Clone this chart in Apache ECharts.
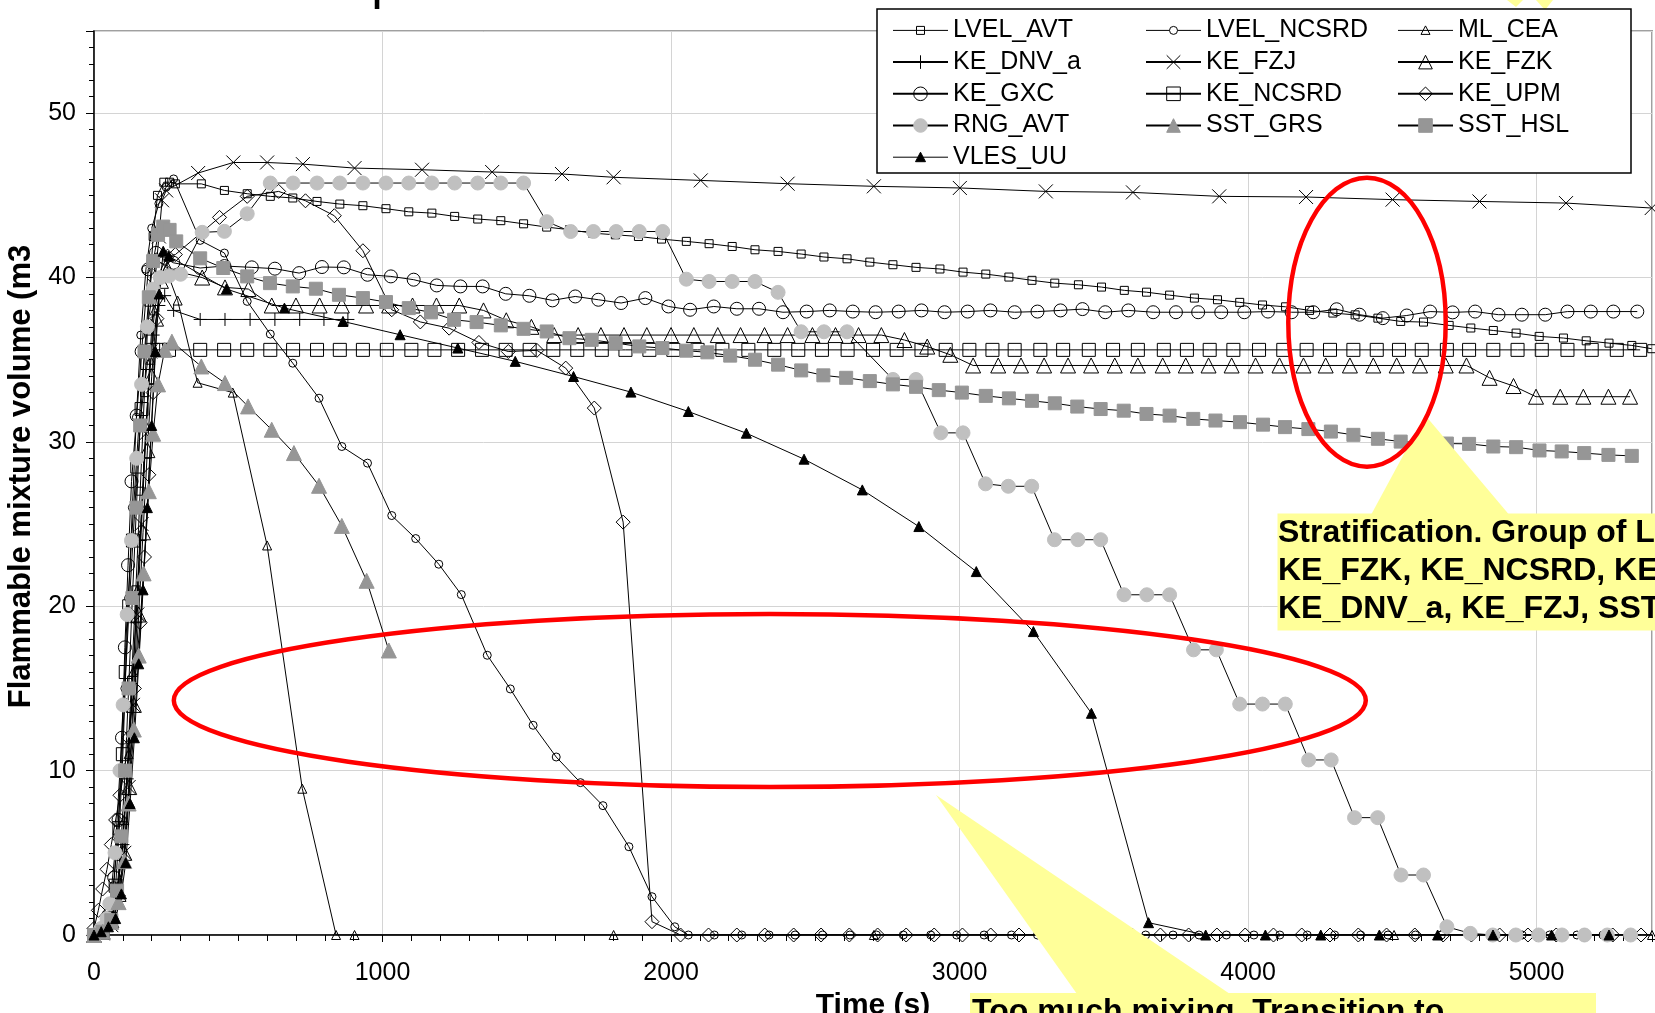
<!DOCTYPE html>
<html><head><meta charset="utf-8">
<script src="https://cdn.jsdelivr.net/npm/echarts@6/dist/echarts.min.js"></script>
<style>html,body{margin:0;padding:0;background:#fff;overflow:hidden}#chart{width:1655px;height:1013px}</style>
</head><body><div id="chart"></div>
<script>
const FONT = "'Liberation Sans', Arial, sans-serif";
const xTickLabels = ['0','1000','2000','3000','4000','5000'];
const yTickLabels = ['0','10','20','30','40','50'];
const legendCol1 = ['LVEL_AVT','KE_DNV_a','KE_GXC','RNG_AVT','VLES_UU'];
const legendCol2 = ['LVEL_NCSRD','KE_FZJ','KE_NCSRD','SST_GRS'];
const legendCol3 = ['ML_CEA','KE_FZK','KE_UPM','SST_HSL'];

const LVEL_AVT = [[0,0],[30,0.1],[60,0.8],[80,2.4],[100,6],[115,10],[130,15.5],[145,21],[160,27],[175,33],[190,38.5],[205,42.5],[220,45],[242,45.8],[262,45.8],[282,45.7],[372,45.7],[452,45.3],[531,45.1],[611,44.94],[689,44.84],[773,44.63],[852,44.47],[932,44.37],[1012,44.19],[1091,44.0],[1171,43.92],[1250,43.72],[1330,43.56],[1410,43.46],[1489,43.27],[1569,43.07],[1648,42.91],[1728,42.7],[1807,42.6],[1887,42.5],[1967,42.34],[2053,42.2],[2132,42.06],[2212,41.89],[2291,41.69],[2371,41.59],[2451,41.43],[2530,41.25],[2610,41.14],[2689,40.94],[2769,40.78],[2849,40.62],[2932,40.52],[3012,40.33],[3091,40.21],[3171,40.03],[3251,39.83],[3330,39.66],[3412,39.56],[3492,39.42],[3571,39.22],[3648,39.11],[3728,38.93],[3814,38.75],[3894,38.65],[3971,38.49],[4050,38.33],[4130,38.22],[4213,38.0],[4294,37.84],[4371,37.73],[4450,37.53],[4529,37.33],[4608,37.29],[4697,37.09],[4772,36.93],[4850,36.78],[4929,36.62],[5009,36.42],[5093,36.32],[5172,36.15],[5251,36.01],[5330,35.87],[5399,35.67]];
const LVEL_NCSRD = [[0,0],[25,0.3],[50,1],[68,3],[82,6],[95,10],[107,15],[120,20.5],[133,26],[147,31.5],[162,36.5],[180,40.5],[200,43],[225,44.5],[250,45.5],[276,46.0],[368,42.26],[452,41.49],[531,38.55],[611,36.56],[689,34.79],[780,32.66],[859,29.72],[948,28.71],[1032,25.52],[1115,24.12],[1195,22.56],[1273,20.71],[1363,17.02],[1443,14.97],[1522,12.76],[1602,10.83],[1686,9.27],[1764,7.87],[1854,5.37],[1934,2.33],[2013,0.5],[2060,0],[2150,0],[2245,0],[2340,0],[2430,0],[2525,0],[2620,0],[2712,0],[2805,0],[2900,0],[2990,0],[3085,0],[3180,0],[3270,0],[3365,0],[3460,0],[3550,0],[3645,0],[3740,0],[3830,0],[3925,0],[4020,0],[4110,0],[4205,0],[4300,0],[4390,0],[4485,0],[4580,0],[4670,0],[4765,0],[4860,0],[4950,0],[5045,0],[5140,0],[5230,0],[5325,0]];
const ML_CEA = [[0,0],[30,0.2],[60,1],[85,3],[105,7],[120,11],[135,16],[150,21],[165,26],[180,31],[195,35],[210,38],[230,40],[250,40.5],[290,38.6],[359,33.6],[481,33.0],[600,23.7],[722,8.9],[839,0],[903,0],[1801,0],[2703,0],[3605,0],[4506,0],[5400,0]];
const KE_DNV_a = [[0,0],[30,0.2],[60,1],[80,2.5],[100,5.5],[115,9.5],[130,14],[145,19],[160,24],[175,29],[190,33.5],[205,36.5],[225,38.3],[245,38.9],[276,38.0],[368,37.45],[454,37.45],[541,37.45],[627,37.45],[713,37.45],[797,37.45],[880,37.45]];
const KE_FZJ = [[0,0],[30,0.1],[60,0.6],[85,2],[105,5],[120,9],[135,14],[150,19.5],[165,25],[180,30.5],[195,35.5],[210,39.5],[225,42.5],[236,44.7],[250,45.3],[361,46.36],[483,47.0],[600,47.0],[724,46.9],[903,46.66],[1137,46.56],[1380,46.42],[1622,46.3],[1801,46.1],[2103,45.91],[2404,45.71],[2703,45.55],[3001,45.45],[3299,45.24],[3601,45.18],[3900,44.94],[4201,44.9],[4501,44.74],[4802,44.63],[5102,44.53],[5399,44.23]];
const KE_FZK = [[0,0],[30,0.2],[60,0.9],[85,2.5],[105,5],[122,9],[138,14],[155,19.5],[170,24.5],[185,29.5],[200,34],[215,37.5],[232,39.8],[255,40.5],[375,40.0],[454,39.4],[535,39.3],[616,38.3],[700,38.3],[782,38.3],[859,38.3],[943,38.3],[1023,38.3],[1104,38.3],[1187,38.3],[1266,38.3],[1350,38.0],[1429,37.4],[1516,37.0],[1595,36.5],[1678,36.5],[1757,36.5],[1837,36.5],[1916,36.5],[2000,36.5],[2079,36.5],[2162,36.5],[2241,36.5],[2324,36.5],[2404,36.5],[2490,36.5],[2570,36.5],[2650,36.5],[2729,36.5],[2809,36.2],[2888,35.8],[2968,35.3],[3047,34.65],[3134,34.65],[3213,34.65],[3293,34.65],[3376,34.65],[3456,34.65],[3538,34.65],[3618,34.65],[3704,34.65],[3784,34.65],[3863,34.65],[3943,34.65],[4026,34.65],[4109,34.65],[4192,34.65],[4269,34.65],[4353,34.65],[4434,34.65],[4515,34.65],[4596,34.65],[4685,34.65],[4757,34.65],[4837,33.9],[4920,33.4],[4998,32.75],[5082,32.75],[5162,32.75],[5249,32.75],[5324,32.75]];
const KE_GXC = [[0,0],[25,0.3],[50,1.2],[70,3.5],[85,7],[97,12],[107,17.5],[118,22.5],[130,27.6],[148,31.6],[165,35.5],[188,40.5],[215,41.5],[245,41.2],[275,40.9],[368,40.58],[452,40.7],[547,40.62],[627,40.54],[711,40.27],[790,40.64],[866,40.62],[948,40.17],[1029,40.07],[1108,39.87],[1188,39.52],[1270,39.46],[1347,39.46],[1427,39.01],[1509,38.89],[1589,38.61],[1668,38.85],[1748,38.65],[1827,38.45],[1911,38.75],[1991,38.24],[2066,38.04],[2148,38.24],[2228,38.1],[2305,38.1],[2388,37.89],[2470,37.93],[2550,38.0],[2630,37.93],[2709,37.89],[2789,37.93],[2868,38.0],[2948,37.89],[3028,37.93],[3107,38.0],[3191,37.89],[3270,37.93],[3350,38.0],[3426,38.08],[3505,37.89],[3585,38.0],[3671,37.89],[3750,37.89],[3827,37.89],[3907,37.89],[3987,37.89],[4069,37.93],[4151,37.89],[4226,37.89],[4307,38.07],[4386,37.74],[4467,37.53],[4550,37.69],[4631,37.93],[4709,37.88],[4787,37.93],[4868,37.74],[4949,37.74],[5030,37.74],[5107,37.93],[5188,37.93],[5266,37.93],[5349,37.93]];
const KE_NCSRD = [[0,0],[30,0.2],[55,1],[75,3],[88,6.5],[100,11],[110,16],[122,20],[135,24],[150,28.5],[165,32],[185,34.8],[205,35.6],[230,35.6],[260,35.6],[368,35.6],[451,35.6],[531,35.6],[611,35.6],[690,35.6],[773,35.6],[852,35.6],[932,35.6],[1015,35.6],[1100,35.6],[1180,35.6],[1262,35.6],[1345,35.6],[1427,35.6],[1510,35.6],[1592,35.6],[1675,35.6],[1760,35.6],[1842,35.6],[1925,35.6],[2008,35.6],[2092,35.6],[2178,35.6],[2268,35.6],[2358,35.6],[2441,35.6],[2523,35.6],[2612,35.6],[2700,35.6],[2782,35.6],[2868,35.6],[2952,35.6],[3034,35.6],[3114,35.6],[3191,35.6],[3280,35.6],[3359,35.6],[3448,35.6],[3532,35.6],[3618,35.6],[3708,35.6],[3788,35.6],[3867,35.6],[3949,35.6],[4038,35.6],[4122,35.6],[4203,35.6],[4284,35.6],[4365,35.6],[4446,35.6],[4523,35.6],[4602,35.6],[4689,35.6],[4766,35.6],[4850,35.6],[4934,35.6],[5018,35.6],[5107,35.6],[5191,35.6],[5278,35.6],[5359,35.6]];
const KE_UPM = [[0,0.4],[15,1.5],[30,2.8],[45,4],[60,5.5],[75,7],[90,8.5],[105,10],[120,12],[140,15],[160,19],[175,23],[190,28],[205,33],[218,37.5],[232,40.5],[255,41.3],[282,41.4],[435,43.66],[531,44.94],[640,45.24],[733,44.67],[833,43.76],[932,41.63],[1032,38.04],[1131,37.3],[1231,36.92],[1334,36.05],[1436,35.5],[1535,35.57],[1635,34.49],[1734,32.06],[1834,25.12],[1934,0.81],[2033,0],[2130,0],[2228,0],[2325,0],[2425,0],[2520,0],[2618,0],[2716,0],[2815,0],[2912,0],[3010,0],[3108,0],[3206,0],[3304,0],[3402,0],[3500,0],[3598,0],[3696,0],[3794,0],[3892,0],[3990,0],[4088,0],[4186,0],[4284,0],[4382,0],[4480,0],[4578,0],[4676,0],[4774,0],[4872,0],[4970,0],[5068,0],[5166,0],[5264,0],[5362,0]];
const RNG_AVT = [[0,0],[25,0.4],[45,1],[55,1.9],[73,5],[90,10],[101,14],[115,19.5],[130,24],[148,29],[165,33.5],[185,37],[205,39.3],[230,40],[260,40.1],[300,40.2],[375,42.75],[452,42.81],[531,43.88],[611,45.75],[690,45.75],[773,45.75],[852,45.75],[932,45.75],[1012,45.75],[1091,45.75],[1171,45.75],[1250,45.75],[1330,45.75],[1410,45.75],[1489,45.75],[1569,43.4],[1652,42.8],[1731,42.8],[1810,42.8],[1890,42.8],[1971,42.8],[2053,39.9],[2132,39.76],[2212,39.76],[2291,39.76],[2371,39.1],[2451,36.7],[2530,36.7],[2610,36.7],[2769,33.8],[2849,33.8],[2935,30.55],[3012,30.55],[3090,27.45],[3169,27.3],[3250,27.3],[3329,24.05],[3410,24.05],[3489,24.05],[3570,20.7],[3649,20.7],[3728,20.7],[3811,17.35],[3890,17.35],[3971,14.05],[4050,14.05],[4129,14.05],[4210,10.65],[4288,10.65],[4369,7.14],[4449,7.14],[4530,3.65],[4608,3.65],[4689,0.5],[4770,0.1],[4848,0],[4928,0],[5007,0],[5088,0],[5166,0],[5245,0],[5326,0]];
const SST_GRS = [[0,0],[30,0.2],[60,0.8],[85,2],[105,4.5],[120,8],[138,12.5],[155,17],[172,22],[190,27],[205,30.5],[222,33.5],[245,35.6],[270,36.1],[372,34.59],[454,33.58],[534,32.16],[616,30.74],[693,29.32],[780,27.33],[859,24.89],[945,21.55],[1022,17.31]];
const SST_HSL = [[0,0],[30,0.2],[60,0.9],[80,2.7],[95,6],[108,10],[120,15],[133,20.5],[147,26],[160,31],[175,35.5],[190,38.8],[205,41],[222,42.6],[240,43.1],[262,42.9],[285,42.2],[368,41.17],[448,40.58],[531,40.07],[610,39.66],[689,39.46],[769,39.32],[849,38.95],[932,38.75],[1012,38.51],[1091,38.14],[1168,37.88],[1248,37.43],[1326,37.29],[1410,37.09],[1489,36.88],[1569,36.72],[1648,36.31],[1725,36.21],[1808,36.01],[1890,35.81],[1970,35.71],[2053,35.55],[2126,35.45],[2205,35.25],[2291,35.0],[2371,34.7],[2451,34.35],[2528,34.05],[2607,33.9],[2689,33.7],[2769,33.5],[2849,33.35],[2928,33.15],[3008,33.0],[3091,32.8],[3171,32.65],[3251,32.5],[3330,32.35],[3408,32.15],[3489,32.0],[3569,31.9],[3648,31.7],[3728,31.6],[3810,31.4],[3887,31.3],[3972,31.2],[4052,31.05],[4128,30.9],[4209,30.78],[4287,30.63],[4365,30.43],[4450,30.19],[4529,30.02],[4608,29.95],[4689,29.9],[4766,29.88],[4850,29.72],[4929,29.68],[5010,29.48],[5087,29.42],[5165,29.32],[5249,29.21],[5330,29.15]];
const VLES_UU = [[0,0],[25,0.2],[50,0.5],[75,1],[95,2.5],[110,4.4],[125,8],[140,12],[155,16.5],[170,21],[185,26],[200,31],[213,35.5],[226,39],[240,41.6],[259,41.3],[459,39.3],[660,38.14],[863,37.33],[1061,36.52],[1261,35.71],[1460,34.9],[1662,33.98],[1861,33.03],[2060,31.85],[2261,30.53],[2461,28.95],[2663,27.08],[2859,24.85],[3058,22.11],[3256,18.46],[3457,13.49],[3655,0.75],[3853,0],[4060,0],[4252,0],[4455,0],[4657,0],[4849,0],[5052,0],[5251,0]];

const PLUS = 'path://M5,0L5,10M0,5L10,5';
const CROSS = 'path://M0,0L10,10M10,0L0,10';
const NOFILL = 'rgba(0,0,0,0)';

// legend icons (line + small marker) for the small-marker series
const ICON_SMALL_RECT = 'path://M0,0M55,17M0,8.5L55,8.5M23.5,4.5L31.5,4.5L31.5,12.5L23.5,12.5Z';
const ICON_SMALL_CIRCLE = 'path://M0,0M55,17M0,8.5L23.5,8.5M31.5,8.5L55,8.5M23.5,8.5A4,4,0,1,1,31.5,8.5A4,4,0,1,1,23.5,8.5Z';
const ICON_SMALL_TRI = 'path://M0,0M55,17M0,8.5L55,8.5M27.5,4L32,12.5L23,12.5Z';
const ICON_FILLED_TRI = 'path://M0,0M55,17M0,8.5L55,8.5M27.5,3.5L32.5,13L22.5,13Z';
const legendIcons = { LVEL_AVT: ICON_SMALL_RECT, LVEL_NCSRD: ICON_SMALL_CIRCLE, ML_CEA: ICON_SMALL_TRI, VLES_UU: ICON_FILLED_TRI };

function mk(name, data, symbol, size, fill, border) {
  return {
    name, type: 'line', data, symbol, symbolSize: size, showSymbol: true,
    xAxisIndex: 0, yAxisIndex: 0, animation: false,
    lineStyle: { color: '#000', width: 1 },
    itemStyle: { color: fill, borderColor: border, borderWidth: 1 },
    emphasis: { disabled: true }
  };
}

const series = [
  mk('LVEL_AVT', LVEL_AVT, 'rect', 8, NOFILL, '#000'),
  mk('LVEL_NCSRD', LVEL_NCSRD, 'circle', 8, NOFILL, '#000'),
  mk('ML_CEA', ML_CEA, 'triangle', 9, NOFILL, '#000'),
  mk('KE_DNV_a', KE_DNV_a, PLUS, 13, NOFILL, '#000'),
  mk('KE_FZJ', KE_FZJ, CROSS, 14, NOFILL, '#000'),
  mk('KE_FZK', KE_FZK, 'triangle', 15, NOFILL, '#000'),
  mk('KE_GXC', KE_GXC, 'circle', 13, NOFILL, '#000'),
  mk('KE_NCSRD', KE_NCSRD, 'rect', 13, NOFILL, '#000'),
  mk('KE_UPM', KE_UPM, 'diamond', 14, NOFILL, '#000'),
  mk('RNG_AVT', RNG_AVT, 'circle', 14, '#c0c0c0', '#c0c0c0'),
  mk('SST_GRS', SST_GRS, 'triangle', 15, '#969696', '#969696'),
  mk('SST_HSL', SST_HSL, 'rect', 13, '#969696', '#969696'),
  mk('VLES_UU', VLES_UU, 'triangle', 10, '#000', '#000')
];

function legendData(names) {
  return names.map(n => legendIcons[n] ? { name: n, icon: legendIcons[n] } : { name: n });
}

const legendCommon = {
  orient: 'vertical', padding: 0, itemWidth: 55, itemHeight: 17, itemGap: 5.7,
  selectedMode: false, z: 30,
  textStyle: { fontSize: 25, color: '#000', fontFamily: FONT, lineHeight: 26 },
  itemStyle: { borderWidth: 1 }
};

const chart = echarts.init(document.getElementById('chart'), null, { renderer: 'canvas' });
chart.setOption({
  backgroundColor: '#fff',
  animation: false,
  textStyle: { fontFamily: FONT },
  grid: { left: 94, top: 31, right: 3, bottom: 78, containLabel: false, outerBoundsMode: 'none', show: true, borderColor: '#a0a0a0', borderWidth: 2, backgroundColor: 'transparent' },
  legend: [
    Object.assign({}, legendCommon, { left: 892, top: 17.4, data: legendData(legendCol1) }),
    Object.assign({}, legendCommon, { left: 1145, top: 17.4, data: legendData(legendCol2) }),
    Object.assign({}, legendCommon, { left: 1397, top: 17.4, data: legendData(legendCol3) })
  ],
  xAxis: [
    {
      type: 'value', min: 0, max: 5400, interval: 1000, position: 'bottom',
      name: 'Time (s)', nameLocation: 'middle', nameGap: 47,
      nameTextStyle: { fontSize: 30, fontWeight: 'bold', color: '#000', fontFamily: FONT },
      axisLine: { onZero: false, lineStyle: { color: '#000', width: 1.5 } },
      axisTick: { show: true, length: 7, lineStyle: { color: '#000' } },
      axisLabel: { fontSize: 25, color: '#000', margin: 26, fontFamily: FONT,
        formatter: v => xTickLabels.indexOf(String(v)) >= 0 ? String(v) : '' },
      splitLine: { show: true, lineStyle: { color: '#d4d4d4', width: 1 } }
    },
    {
      type: 'value', min: 0, max: 5400, interval: 100, position: 'bottom',
      axisLine: { show: false, onZero: false },
      axisTick: { show: true, length: 6, lineStyle: { color: '#000' } },
      axisLabel: { show: false }, splitLine: { show: false }
    }
  ],
  yAxis: [
    {
      type: 'value', min: 0, max: 55, interval: 10, position: 'left',
      name: 'Flammable mixture volume (m3', nameLocation: 'middle', nameGap: 51,
      nameTextStyle: { fontSize: 31, fontWeight: 'bold', color: '#000', fontFamily: FONT, padding: [0, 0, 0, 13] },
      axisLine: { show: true, onZero: false, lineStyle: { color: '#000', width: 1.5 } },
      axisTick: { show: true, length: 8, lineStyle: { color: '#000' } },
      axisLabel: { fontSize: 25, color: '#000', margin: 18, fontFamily: FONT,
        formatter: v => yTickLabels.indexOf(String(v)) >= 0 ? String(v) : '' },
      splitLine: { show: true, lineStyle: { color: '#d4d4d4', width: 1 } }
    },
    {
      type: 'value', min: 0, max: 55, interval: 1, position: 'left',
      axisLine: { show: false, onZero: false },
      axisTick: { show: true, length: 5, lineStyle: { color: '#000' } },
      axisLabel: { show: false }, splitLine: { show: false }
    }
  ],
  series: series,
  graphic: [
    { type: 'text', x: 7, y: -16, z: 40, style: { text: 'on assessment parameters', fontSize: 52, fontFamily: FONT, fill: '#000', verticalAlign: 'middle' } },
    { type: 'polygon', z: 20, shape: { points: [[1507,0],[1516,7],[1523,0]] }, style: { fill: '#ffff99' } },
    { type: 'polygon', z: 20, shape: { points: [[1536,0],[1545,10],[1553,0]] }, style: { fill: '#ffff99' } },
    { type: 'rect', z: 25, shape: { x: 877, y: 9, width: 754, height: 164 }, style: { fill: '#fff', stroke: '#000', lineWidth: 1.5 } },
    { type: 'polygon', z: 20, shape: { points: [[1371.5,514],[1425,415],[1508.5,514]] }, style: { fill: '#ffff99' } },
    { type: 'rect', z: 20, shape: { x: 1277.5, y: 513.5, width: 400, height: 117 }, style: { fill: '#ffff99' } },
    { type: 'text', x: 1278, y: 533.2, z: 22, style: { text: 'Stratification. Group of L', fontSize: 32, fontWeight: 'bold', fontFamily: FONT, fill: '#000', verticalAlign: 'middle' } },
    { type: 'text', x: 1278, y: 571.6, z: 22, style: { text: 'KE_FZK, KE_NCSRD, KE', fontSize: 32, fontWeight: 'bold', fontFamily: FONT, fill: '#000', verticalAlign: 'middle' } },
    { type: 'text', x: 1278, y: 608.9, z: 22, style: { text: 'KE_DNV_a, KE_FZJ, SST', fontSize: 32, fontWeight: 'bold', fontFamily: FONT, fill: '#000', verticalAlign: 'middle' } },
    { type: 'polygon', z: 20, shape: { points: [[936,795],[1077,994],[1230,994]] }, style: { fill: '#ffff99' } },
    { type: 'rect', z: 20, shape: { x: 970, y: 993, width: 626, height: 30 }, style: { fill: '#ffff99' } },
    { type: 'text', x: 972, y: 1011.8, z: 22, style: { text: 'Too much mixing. Transition to', fontSize: 32, fontWeight: 'bold', fontFamily: FONT, fill: '#000', verticalAlign: 'middle' } },
    { type: 'ellipse', z: 21, shape: { cx: 769.8, cy: 700.5, rx: 596, ry: 86.5 }, style: { fill: 'none', stroke: '#ff0000', lineWidth: 4.5 } },
    { type: 'ellipse', z: 21, shape: { cx: 1367, cy: 322.2, rx: 78.7, ry: 144.5 }, style: { fill: 'none', stroke: '#ff0000', lineWidth: 4.5 } }
  ]
});
</script>
</body></html>
